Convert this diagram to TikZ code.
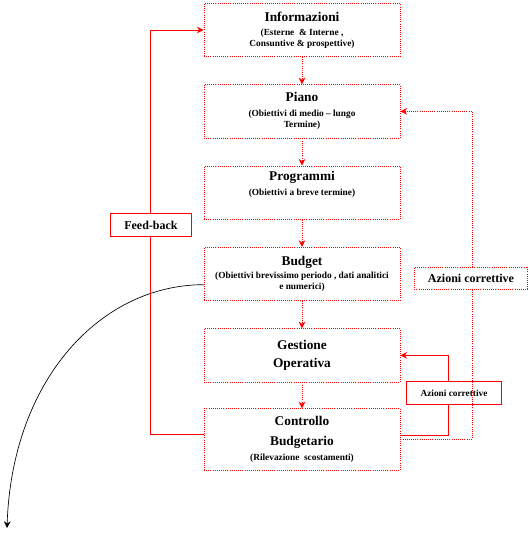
\documentclass[tikz,border=0pt]{standalone}
\usepackage{fontspec}
\setmainfont{Liberation Serif}
\usepackage{tikz}
\usetikzlibrary{positioning,arrows.meta,calc}

\begin{document}
\begin{tikzpicture}[x=0.75pt,y=-0.75pt,>={Stealth[length=5pt,width=5pt]},on grid,
  font=\bfseries\fontsize{7}{8.25}\selectfont,
  bx/.style={draw=red,densely dotted,line width=0.6pt,minimum width=147pt,minimum height=40pt,align=center,inner sep=1pt},
  lb/.style={draw=red,fill=white,line width=0.6pt,inner sep=1pt,align=center},
  fl/.style={red,line width=0.6pt,->}]
\useasboundingbox (0,0) rectangle (530,535);
% colonna centrale
\node[bx] (info) at (302,30) {{\fontsize{10}{11}\selectfont Informazioni}\\[2pt](Esterne \ \& Interne ,\\Consuntive \& prospettive)};
\node[bx,below=61pt of info] (piano) {{\fontsize{10}{12}\selectfont Piano}\\[3pt](Obiettivi di medio -- lungo\\Termine)};
\node[bx,below=61pt of piano] (prog) {{\fontsize{10}{13}\selectfont Programmi}\\[3pt](Obiettivi a breve termine)\\[6pt]};
\node[bx,below=61pt of prog] (budget) {{\fontsize{10}{12}\selectfont Budget}\\[2pt](Obiettivi brevissimo periodo , dati analitici\\e numerici)};
\node[bx,below=61pt of budget,font=\bfseries\fontsize{10}{15}\selectfont] (gest) {Gestione\\[-1pt]Operativa};
\node[bx,below=63pt of gest,minimum height=46pt,font=\bfseries\fontsize{10}{15}\selectfont] (contr) {Controllo\\Budgetario\\[-4pt]{\fontsize{7}{8}\selectfont (Rilevazione \ scostamenti)}};
\foreach \a/\b in {info/piano,piano/prog,prog/budget,budget/gest,gest/contr}
  \draw[fl,densely dotted] (\a) -- (\b);
% anelli di ritorno
\node[lb,minimum width=61pt,minimum height=17pt,font=\bfseries\fontsize{9}{10}\selectfont] (feedb) at (151,225) {Feed-back};
\node[lb,densely dotted,minimum width=85pt,minimum height=16.5pt,font=\bfseries\fontsize{9}{10}\selectfont] (azgr) at (471,278) {Azioni correttive};
\node[lb,minimum width=71pt,minimum height=17pt] (azpc) at (454,393) {Azioni correttive};
\coordinate (kfb) at (150,434);
\coordinate (kgr) at (472,439);
\coordinate (kpc) at (448,435);
\draw[red,line width=0.6pt] (contr.west |- kfb) -- (kfb) -- (kfb |- feedb.south);
\draw[fl] (kfb |- feedb.north) |- (info.west);
\draw[red,densely dotted,line width=0.6pt] (contr.east |- kgr) -- (kgr) -- (kgr |- azgr.south);
\draw[fl,densely dotted] (kgr |- azgr.north) |- (piano.east);
\draw[red,line width=0.6pt] (contr.east |- kpc) -- (kpc) -- (kpc |- azpc.south);
\draw[fl] (kpc |- azpc.north) |- (gest.east);
% uscita dal budget
\coordinate (fine) at (7,528);
\draw[->,line width=0.5pt] ([yshift=-8pt]budget.west) .. controls (100,285) and (12,380) .. (fine);
\end{tikzpicture}
\end{document}
